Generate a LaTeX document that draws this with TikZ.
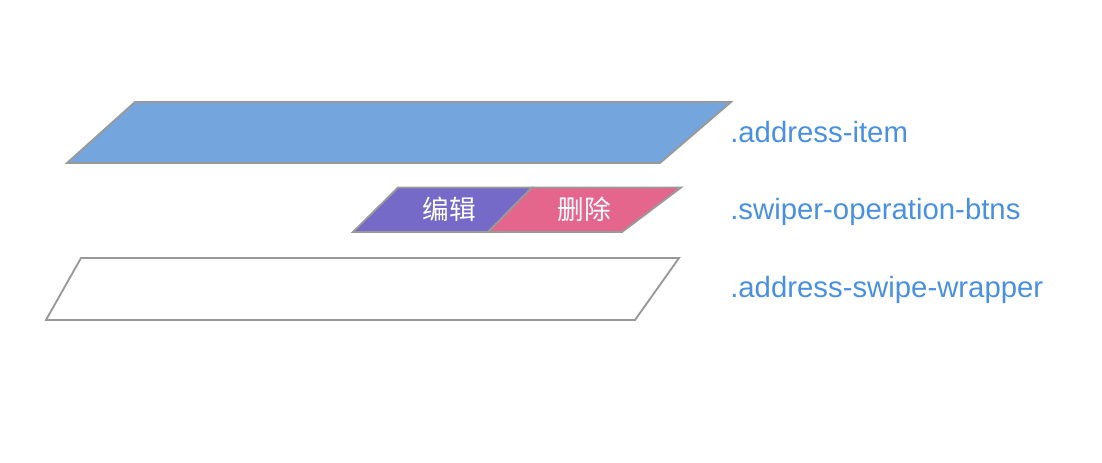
\documentclass[tikz,border=0pt]{standalone}
\usepackage{fontspec}
\setmainfont{Liberation Sans}
\newfontfamily\cjk{Noto Sans CJK SC}
\definecolor{itemblue}{RGB}{116,165,220}
\definecolor{editpurple}{RGB}{117,106,200}
\definecolor{delpink}{RGB}{229,102,140}
\definecolor{labelblue}{RGB}{74,144,226}
\definecolor{edgegray}{RGB}{153,153,153}
\begin{document}
\begin{tikzpicture}[x=0.75pt,y=-0.75pt,
  layer/.style={draw=edgegray,line width=1.4pt,line join=miter},
  classlabel/.style={anchor=base west,inner sep=0pt,text=labelblue,font=\fontsize{22}{26}\selectfont},
  btntext/.style={inner sep=0pt,text=white,font=\cjk\fontsize{20}{24}\selectfont}]
\useasboundingbox (0,0) rectangle (1102,462);
% address-item
\path[layer,fill=itemblue] (135,102) -- (731,102) -- (660,163) -- (67,163) -- cycle;
% wrapper
\path[layer,fill=white] (81,258) -- (679,258) -- (635,320) -- (46,320) -- cycle;
% buttons
\path[layer,fill=editpurple] (398,187.5) -- (532,187.5) -- (488,232) -- (353,232) -- cycle;
\path[layer,fill=delpink] (532,187.5) -- (681,187.5) -- (622,232) -- (488,232) -- cycle;
\node[btntext] (edit) at (449,209) {编辑};
\node[btntext] (del) at (584,209) {删除};
% labels
\node[classlabel] (litem) at (730,142) {.address-item};
\node[classlabel] (lbtns) at (730,219) {.swiper-operation-btns};
\node[classlabel] (lwrap) at (730,297) {.address-swipe-wrapper};
\end{tikzpicture}
\end{document}
